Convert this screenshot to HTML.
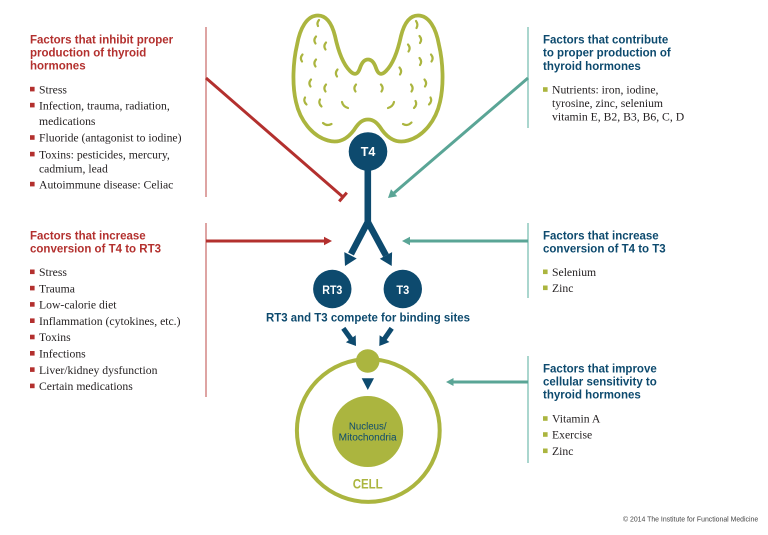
<!DOCTYPE html>
<html>
<head>
<meta charset="utf-8">
<style>
html,body{margin:0;padding:0;background:#fff;}
svg{display:block;}
.t{font-family:"Liberation Sans",sans-serif;font-weight:bold;font-size:11.5px;}
.r{fill:#b3302e;}
.b{fill:#0d4a6e;}
.s{font-family:"Liberation Serif",serif;font-size:11.7px;fill:#231f20;}
</style>
</head>
<body>
<svg width="768" height="535" viewBox="0 0 768 535" xmlns="http://www.w3.org/2000/svg">
<rect width="768" height="535" fill="#fff"/>

<!-- thin vertical lines -->
<line x1="206" y1="27" x2="206" y2="197" stroke="#cf7d7c" stroke-width="1.4"/>
<line x1="206" y1="223" x2="206" y2="397" stroke="#cf7d7c" stroke-width="1.4"/>
<line x1="528" y1="27" x2="528" y2="128" stroke="#8ec9bd" stroke-width="1.5"/>
<line x1="528" y1="223" x2="528" y2="298" stroke="#8ec9bd" stroke-width="1.5"/>
<line x1="528" y1="356" x2="528" y2="463" stroke="#8ec9bd" stroke-width="1.5"/>

<!-- red inhibit line with T-bar -->
<line x1="206" y1="78" x2="343" y2="197" stroke="#b3302e" stroke-width="3"/>
<line x1="339.2" y1="201.4" x2="346.8" y2="192.6" stroke="#b3302e" stroke-width="3"/>

<!-- teal diagonal arrow -->
<line x1="528" y1="78" x2="394" y2="193" stroke="#5aa596" stroke-width="3"/>
<polygon points="388,198 397.2,196.3 391,189.2" fill="#5aa596"/>

<!-- red horizontal arrow -->
<line x1="206" y1="241" x2="326" y2="241" stroke="#b3302e" stroke-width="3"/>
<polygon points="332,241 324,236.8 324,245.2" fill="#b3302e"/>

<!-- teal horizontal arrow -->
<line x1="528" y1="241" x2="408" y2="241" stroke="#5aa596" stroke-width="3"/>
<polygon points="402,241 410,236.8 410,245.2" fill="#5aa596"/>

<!-- teal arrow to cell -->
<line x1="528" y1="382" x2="452" y2="382" stroke="#5aa596" stroke-width="3"/>
<polygon points="446,382 453.5,378 453.5,386" fill="#5aa596"/>

<!-- thyroid -->
<path d="M 318 15.5 C 307 15.5, 300 28, 297 45 C 293 62, 292 85, 296 102 C 300 120, 312 136, 328 140.5 C 340 144, 348 138, 354 130 C 359 122, 363 119.5, 368 119.5 C 373 119.5, 377 122, 382 130 C 388 138, 396 144, 408 140.5 C 424 136, 436 120, 440 102 C 444 85, 443 62, 439 45 C 436 28, 429 15.5, 418 15.5 C 409 15.5, 404 24, 401 36 C 398 50, 393 64, 386 71 C 381 76, 378 74, 376 68 C 374 62, 371 59.5, 368 59.5 C 365 59.5, 362 62, 360 68 C 358 74, 355 76, 350 71 C 343 64, 338 50, 335 36 C 332 24, 327 15.5, 318 15.5 Z" fill="none" stroke="#abb53f" stroke-width="3.8"/>
<g fill="none" stroke="#abb53f" stroke-width="2.2" stroke-linecap="round">
  <!-- left lobe marks "(" -->
  <path d="M319 20 Q316.5 23 318 26"/>
  <path d="M316 36.5 Q313 40 315.5 43.5"/>
  <path d="M326 42.5 Q323 46 325.5 49.5"/>
  <path d="M302.5 54.5 Q299.5 58 302 61.5"/>
  <path d="M316 59.5 Q313 63 315.5 66.5"/>
  <path d="M337.5 69.5 Q334.5 73 337 76.5"/>
  <path d="M311 79.5 Q308 83 310.5 86.5"/>
  <path d="M326 84.5 Q323 88 325.5 91.5"/>
  <path d="M305 97.5 Q303 101 306.5 104.5"/>
  <path d="M320 99.5 Q318 103 321.5 106.5"/>
  <path d="M342 102 Q343 106.5 348 108"/>
  <path d="M323 123 Q327 126.5 331.5 124"/>
  <path d="M356 84.5 Q353 88 355.5 91.5"/>
  <!-- right lobe marks ")" -->
  <path d="M416 21 Q418.5 24.5 416.5 28"/>
  <path d="M419.5 36 Q422.5 39.5 420 43"/>
  <path d="M408 44.5 Q411 48 408.5 51.5"/>
  <path d="M431 54.5 Q434 58 431.5 61.5"/>
  <path d="M419.5 58 Q422.5 61.5 420 65"/>
  <path d="M399.5 67.5 Q402.5 71 400 74.5"/>
  <path d="M424.5 79.5 Q427.5 83 425 86.5"/>
  <path d="M411 84.5 Q414 88 411.5 91.5"/>
  <path d="M381 84.5 Q384 88 381.5 91.5"/>
  <path d="M430.5 97.5 Q432.5 101 429 104.5"/>
  <path d="M415.5 101 Q417.5 104.5 414 108"/>
  <path d="M394 102 Q393 106.5 388 108"/>
  <path d="M403 124 Q407.5 126.5 411.5 122.5"/>
</g>

<!-- T4 -->
<circle cx="368" cy="151.5" r="19.3" fill="#0d4a6e"/>
<text x="368" y="156" text-anchor="middle" font-family="Liberation Sans, sans-serif" font-weight="bold" font-size="12.5" fill="#fff">T4</text>

<!-- Y branch -->
<rect x="364.5" y="170" width="6.6" height="54" fill="#0d4a6e"/>
<path d="M 351 254 L 367.8 222 L 386 255.5" fill="none" stroke="#0d4a6e" stroke-width="6.5" stroke-linejoin="miter"/>
<polygon points="345,266 356.7,258.5 344.3,252.1" fill="#0d4a6e"/>
<polygon points="391.7,266 392.1,252.1 379.8,258.8" fill="#0d4a6e"/>

<!-- RT3 / T3 -->
<circle cx="332.3" cy="289" r="19.2" fill="#0d4a6e"/>
<text x="332.3" y="294" text-anchor="middle" font-family="Liberation Sans, sans-serif" font-weight="bold" font-size="12" fill="#fff" textLength="20" lengthAdjust="spacingAndGlyphs">RT3</text>
<circle cx="402.8" cy="289" r="19.2" fill="#0d4a6e"/>
<text x="402.8" y="294" text-anchor="middle" font-family="Liberation Sans, sans-serif" font-weight="bold" font-size="12" fill="#fff" textLength="12.8" lengthAdjust="spacingAndGlyphs">T3</text>

<text x="266" y="321.6" class="t b" textLength="204" lengthAdjust="spacingAndGlyphs">RT3 and T3 compete for binding sites</text>

<!-- small arrows to cell -->
<line x1="343.3" y1="328.3" x2="351" y2="339" stroke="#0d4a6e" stroke-width="5"/>
<polygon points="356,346 355.7,335.2 345.9,342.2" fill="#0d4a6e"/>
<line x1="391.7" y1="328.3" x2="384.3" y2="339" stroke="#0d4a6e" stroke-width="5"/>
<polygon points="379.3,346 389.4,342 379.6,335.2" fill="#0d4a6e"/>

<!-- cell -->
<circle cx="368.3" cy="430.5" r="71.4" fill="none" stroke="#abb53f" stroke-width="4"/>
<circle cx="367.7" cy="361" r="11.8" fill="#abb53f"/>
<polygon points="361.7,378.3 374,378.3 367.8,390" fill="#0d4a6e"/>
<circle cx="367.7" cy="431.5" r="35.5" fill="#abb53f"/>
<text x="367.7" y="429.3" text-anchor="middle" font-family="Liberation Sans, sans-serif" font-size="9.8" fill="#0d4a6e" textLength="37.7" lengthAdjust="spacingAndGlyphs">Nucleus/</text>
<text x="367.7" y="440.7" text-anchor="middle" font-family="Liberation Sans, sans-serif" font-size="9.8" fill="#0d4a6e" textLength="58" lengthAdjust="spacingAndGlyphs">Mitochondria</text>
<text x="367.7" y="488.3" text-anchor="middle" font-family="Liberation Sans, sans-serif" font-weight="bold" font-size="14" fill="#abb53f" textLength="30" lengthAdjust="spacingAndGlyphs">CELL</text>

<!-- Left top block -->
<text x="30" y="43.5" class="t r">Factors that inhibit proper</text>
<text x="30" y="56.5" class="t r">production of thyroid</text>
<text x="30" y="69.5" class="t r">hormones</text>
<g fill="#b3302e">
  <rect x="30" y="86.8" width="4.6" height="4.6"/>
  <rect x="30" y="102.8" width="4.6" height="4.6"/>
  <rect x="30" y="135.2" width="4.6" height="4.6"/>
  <rect x="30" y="151.8" width="4.6" height="4.6"/>
  <rect x="30" y="181.8" width="4.6" height="4.6"/>
</g>
<text x="39" y="93.3" class="s">Stress</text>
<text x="39" y="109.3" class="s">Infection, trauma, radiation,</text>
<text x="39" y="125" class="s">medications</text>
<text x="39" y="141.7" class="s">Fluoride (antagonist to iodine)</text>
<text x="39" y="158.3" class="s">Toxins: pesticides, mercury,</text>
<text x="39" y="172.7" class="s">cadmium, lead</text>
<text x="39" y="188.3" class="s">Autoimmune disease: Celiac</text>

<!-- Left middle block -->
<text x="30" y="239.3" class="t r">Factors that increase</text>
<text x="30" y="252.5" class="t r">conversion of T4 to RT3</text>
<g fill="#b3302e">
  <rect x="30" y="269.5" width="4.6" height="4.6"/>
  <rect x="30" y="285.8" width="4.6" height="4.6"/>
  <rect x="30" y="302.1" width="4.6" height="4.6"/>
  <rect x="30" y="318.4" width="4.6" height="4.6"/>
  <rect x="30" y="334.7" width="4.6" height="4.6"/>
  <rect x="30" y="351" width="4.6" height="4.6"/>
  <rect x="30" y="367.3" width="4.6" height="4.6"/>
  <rect x="30" y="383.6" width="4.6" height="4.6"/>
</g>
<text x="39" y="276" class="s">Stress</text>
<text x="39" y="292.3" class="s">Trauma</text>
<text x="39" y="308.6" class="s">Low-calorie diet</text>
<text x="39" y="324.9" class="s">Inflammation (cytokines, etc.)</text>
<text x="39" y="341.2" class="s">Toxins</text>
<text x="39" y="357.5" class="s">Infections</text>
<text x="39" y="373.8" class="s">Liver/kidney dysfunction</text>
<text x="39" y="390.1" class="s">Certain medications</text>

<!-- Right top block -->
<text x="543" y="43.3" class="t b">Factors that contribute</text>
<text x="543" y="56.7" class="t b">to proper production of</text>
<text x="543" y="70" class="t b">thyroid hormones</text>
<rect x="543" y="87.2" width="4.6" height="4.6" fill="#abb53f"/>
<text x="552" y="93.7" class="s">Nutrients: iron, iodine,</text>
<text x="552" y="107" class="s">tyrosine, zinc, selenium</text>
<text x="552" y="120.7" class="s">vitamin E, B2, B3, B6, C, D</text>

<!-- Right middle block -->
<text x="543" y="239.3" class="t b">Factors that increase</text>
<text x="543" y="252.7" class="t b">conversion of T4 to T3</text>
<rect x="543" y="269.5" width="4.6" height="4.6" fill="#abb53f"/>
<rect x="543" y="285.5" width="4.6" height="4.6" fill="#abb53f"/>
<text x="552" y="276" class="s">Selenium</text>
<text x="552" y="292" class="s">Zinc</text>

<!-- Right lower block -->
<text x="543" y="372.5" class="t b">Factors that improve</text>
<text x="543" y="385.5" class="t b">cellular sensitivity to</text>
<text x="543" y="398.5" class="t b">thyroid hormones</text>
<rect x="543" y="416.2" width="4.6" height="4.6" fill="#abb53f"/>
<rect x="543" y="432.2" width="4.6" height="4.6" fill="#abb53f"/>
<rect x="543" y="448.5" width="4.6" height="4.6" fill="#abb53f"/>
<text x="552" y="422.7" class="s">Vitamin A</text>
<text x="552" y="438.7" class="s">Exercise</text>
<text x="552" y="455" class="s">Zinc</text>

<!-- copyright -->
<text x="623" y="521.5" font-family="Liberation Sans, sans-serif" font-size="6.9" fill="#444">© 2014 The Institute for Functional Medicine</text>
</svg>
</body>
</html>
